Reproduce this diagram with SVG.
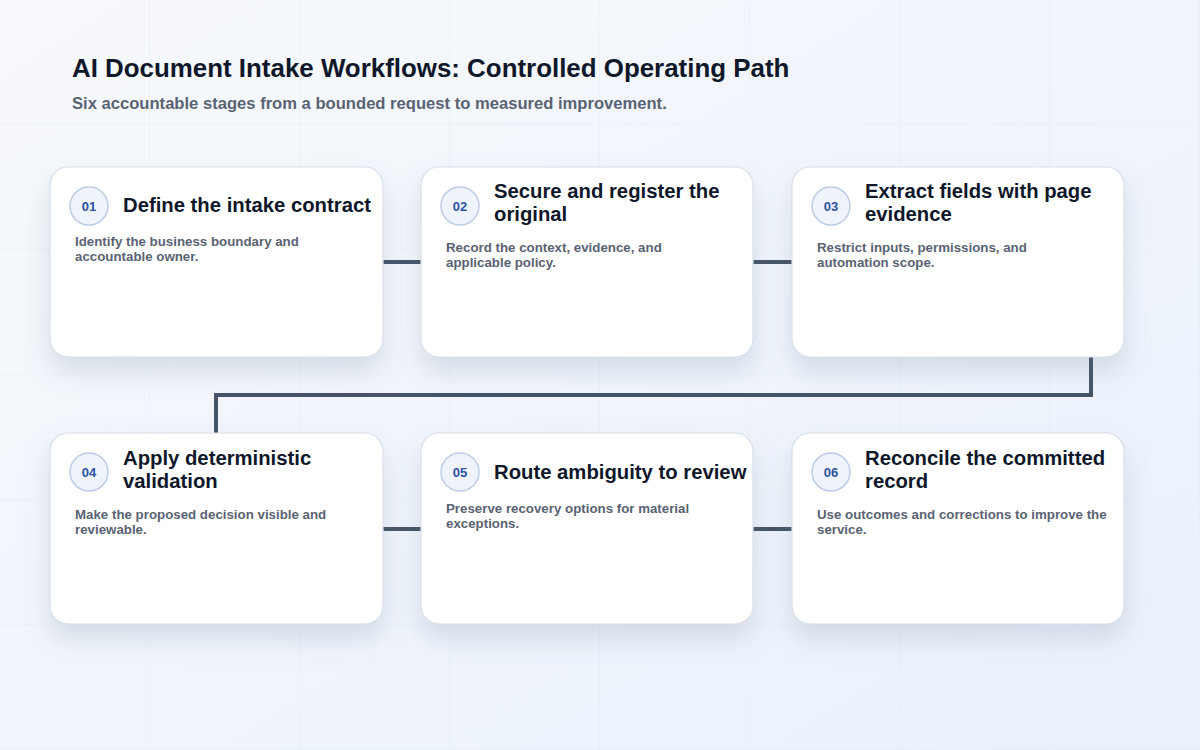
<svg xmlns="http://www.w3.org/2000/svg" width="1200" height="750" viewBox="0 0 1200 750">
<defs>
<linearGradient id="bg" x1="0" y1="0" x2="1" y2="1">
<stop offset="0" stop-color="#f7f9fc"/>
<stop offset="1" stop-color="#eaf1fc"/>
</linearGradient>
<pattern id="grid" x="0" y="0" width="150" height="125" patternUnits="userSpaceOnUse">
<path d="M150 0 V125 M0 125 H150" fill="none" stroke="#dde4ee" stroke-width="1" opacity="0.55"/>
</pattern>
<filter id="shadow" x="-20%" y="-20%" width="140%" height="160%">
<feDropShadow dx="0" dy="14" stdDeviation="13" flood-color="#64748b" flood-opacity="0.2"/>
</filter>
</defs>
<style>
.card{fill:#ffffff;stroke:#d8dfea;stroke-width:1.2;filter:url(#shadow)}
.badge{fill:#eef3fc;stroke:#bccbe6;stroke-width:1.5}
.num{font-family:"Liberation Sans",Arial,sans-serif;font-weight:700;font-size:13px;fill:#2d52a0;text-anchor:middle}
.ttl{font-family:"Liberation Sans",Arial,sans-serif;font-weight:700;font-size:20.3px;fill:#0f172a}
.body{font-family:"Liberation Sans",Arial,sans-serif;font-weight:700;font-size:13.3px;fill:#5a6373}
.conn{fill:none;stroke:#475467;stroke-width:4;stroke-linejoin:miter}
</style>
<rect width="1200" height="750" fill="url(#bg)"/>
<rect width="1200" height="750" fill="url(#grid)"/>
<text x="72" y="77" font-family="'Liberation Sans',Arial,sans-serif" font-weight="700" font-size="25.9" fill="#0f172a">AI Document Intake Workflows: Controlled Operating Path</text>
<text x="72" y="109" font-family="'Liberation Sans',Arial,sans-serif" font-weight="700" font-size="16.6" fill="#5a6373">Six accountable stages from a bounded request to measured improvement.</text>
<g id="connectors">
<path class="conn" d="M383 262 H421"/>
<path class="conn" d="M753 262 H792"/>
<path class="conn" d="M1091 357 V395 H216 V433"/>
<path class="conn" d="M383 529 H421"/>
<path class="conn" d="M753 529 H792"/>
</g>
<g id="node1">
<rect class="card" x="50" y="167" width="333" height="190" rx="18"/>
<circle class="badge" cx="89" cy="206" r="19"/>
<text class="num" x="89" y="210.5">01</text>
<text class="ttl" x="123" y="212">Define the intake contract</text>
<text class="body" x="75" y="246">Identify the business boundary and</text>
<text class="body" x="75" y="261">accountable owner.</text>
</g>
<g id="node2">
<rect class="card" x="421" y="167" width="332" height="190" rx="18"/>
<circle class="badge" cx="460" cy="206" r="19"/>
<text class="num" x="460" y="210.5">02</text>
<text class="ttl" x="494" y="198">Secure and register the</text>
<text class="ttl" x="494" y="221">original</text>
<text class="body" x="446" y="252">Record the context, evidence, and</text>
<text class="body" x="446" y="267">applicable policy.</text>
</g>
<g id="node3">
<rect class="card" x="792" y="167" width="332" height="190" rx="18"/>
<circle class="badge" cx="831" cy="206" r="19"/>
<text class="num" x="831" y="210.5">03</text>
<text class="ttl" x="865" y="198">Extract fields with page</text>
<text class="ttl" x="865" y="221">evidence</text>
<text class="body" x="817" y="252">Restrict inputs, permissions, and</text>
<text class="body" x="817" y="267">automation scope.</text>
</g>
<g id="node4">
<rect class="card" x="50" y="433" width="333" height="191" rx="18"/>
<circle class="badge" cx="89" cy="472" r="19"/>
<text class="num" x="89" y="476.5">04</text>
<text class="ttl" x="123" y="465">Apply deterministic</text>
<text class="ttl" x="123" y="488">validation</text>
<text class="body" x="75" y="519">Make the proposed decision visible and</text>
<text class="body" x="75" y="534">reviewable.</text>
</g>
<g id="node5">
<rect class="card" x="421" y="433" width="332" height="191" rx="18"/>
<circle class="badge" cx="460" cy="472" r="19"/>
<text class="num" x="460" y="476.5">05</text>
<text class="ttl" x="494" y="479">Route ambiguity to review</text>
<text class="body" x="446" y="513">Preserve recovery options for material</text>
<text class="body" x="446" y="528">exceptions.</text>
</g>
<g id="node6">
<rect class="card" x="792" y="433" width="332" height="191" rx="18"/>
<circle class="badge" cx="831" cy="472" r="19"/>
<text class="num" x="831" y="476.5">06</text>
<text class="ttl" x="865" y="465">Reconcile the committed</text>
<text class="ttl" x="865" y="488">record</text>
<text class="body" x="817" y="519">Use outcomes and corrections to improve the</text>
<text class="body" x="817" y="534">service.</text>
</g>
</svg>
